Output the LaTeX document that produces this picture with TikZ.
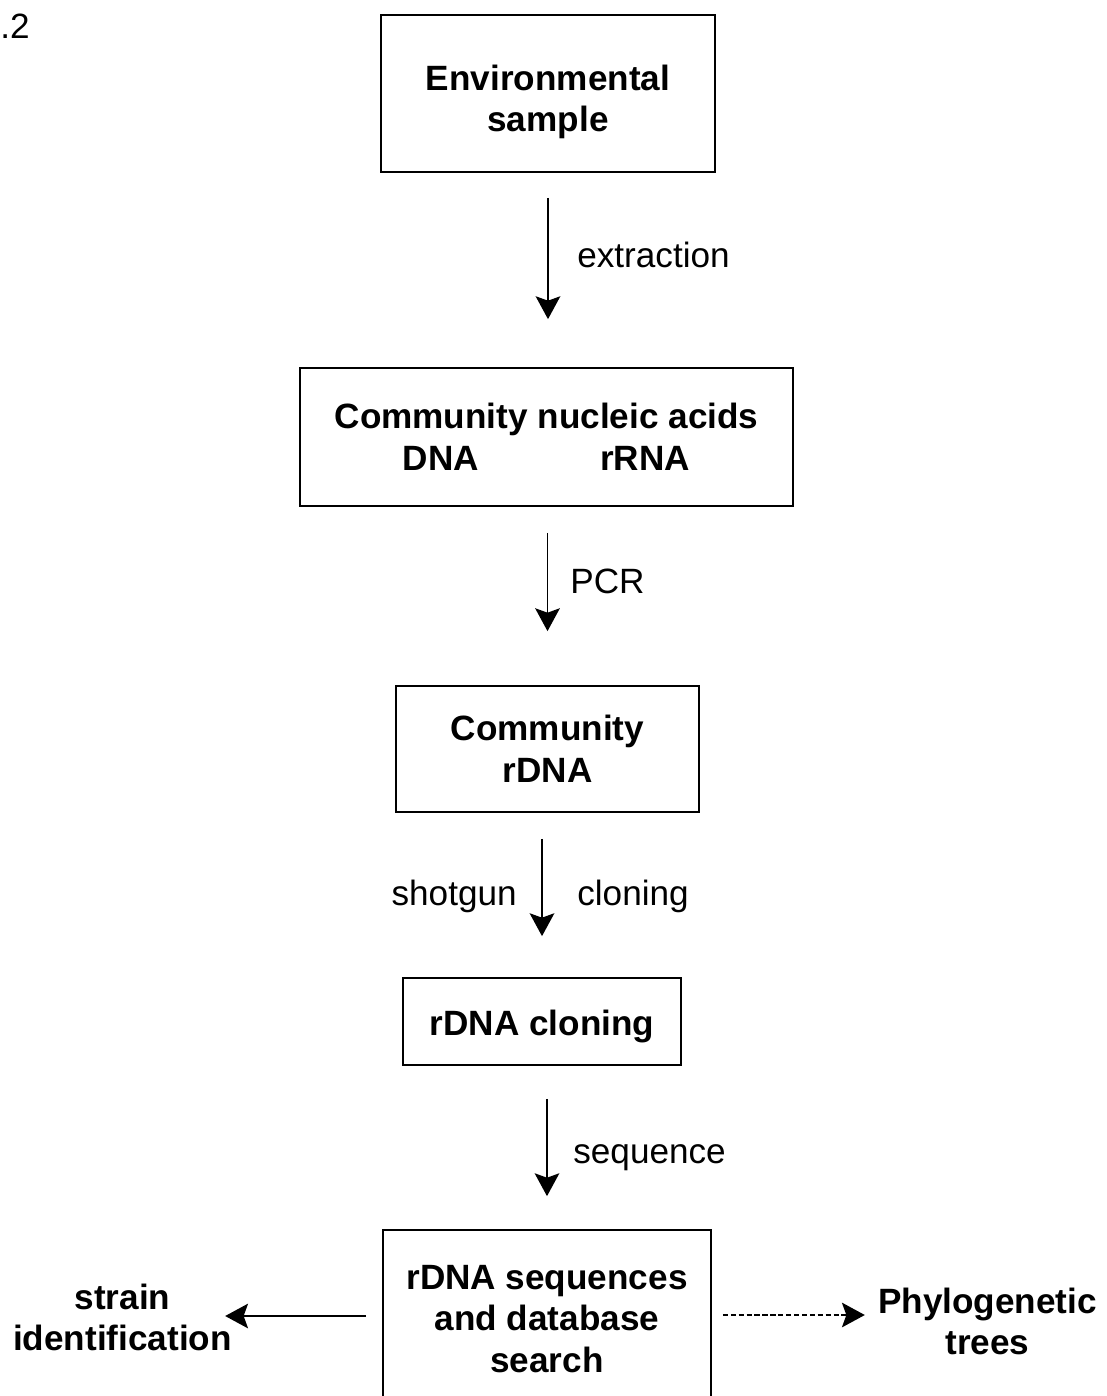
\documentclass[tikz,border=0pt]{standalone}
\usepackage{fontspec}
\setmainfont{Liberation Sans}
\usetikzlibrary{arrows.meta,positioning}

\tikzset{
  stagebox/.style={draw, line width=1pt, align=center, inner sep=0pt,
    font=\fontsize{20}{23.8}\selectfont\bfseries},
  steplabel/.style={inner sep=0pt, font=\fontsize{20}{23.8}\selectfont},
  outlabel/.style={align=center, inner sep=0pt,
    font=\fontsize{20}{23.8}\selectfont\bfseries},
  flow/.style={line width=1.1pt, -{Stealth[length=13pt,width=14pt,inset=2.5pt]}},
}

\begin{document}
\begin{tikzpicture}[x=0.02cm, y=-0.02cm]
    \useasboundingbox (0,0) rectangle (1106,1396);
    \clip (0,0) rectangle (1106,1396);

    % figure number (cut at the left edge)
    \node[steplabel, anchor=base west] (fignum) at (0,38) {.2};

    % Stages
    \node[stagebox, minimum width=6.68cm, minimum height=3.14cm] (env) at (548,93.5) {\rule{0pt}{24pt}Environmental\\sample};
    \node[stagebox, minimum width=9.86cm, minimum height=2.76cm] (nuc) at (546.5,437) {Community nucleic acids\\DNA\hspace{69pt}rRNA};
    \node[stagebox, minimum width=6.06cm, minimum height=2.52cm] (rdna) at (547.5,749) {Community\\rDNA};
    \node[stagebox, minimum width=5.56cm, minimum height=1.74cm] (clones) at (542,1021.5) {\rule{0pt}{20pt}rDNA cloning};
    \node[stagebox, minimum width=6.56cm, minimum height=3.56cm] (seqs) at (547,1319) {rDNA sequences\\and database\\search};

    % Outcomes
    \node[outlabel] (strain) at (122.5,1317.5) {strain\\identification};
    \node[outlabel] (phylo) at (987.5,1321.5) {Phylogenetic\\trees};

    % Steps
    \draw[flow, shorten <=0.5cm, shorten >=0.96cm] (env.south) -- (env.south |- nuc.north);
    \draw[flow, shorten <=0.52cm, shorten >=1.08cm] (nuc.south -| rdna.north) -- (rdna.north);
    \draw[flow, shorten <=0.52cm, shorten >=0.82cm] (rdna.south -| clones.north) -- (clones.north);
    \draw[flow, shorten <=0.66cm, shorten >=0.66cm] (clones.south -| seqs.north) -- (seqs.north);
    \draw[flow, shorten <=0.32cm, shorten >=-0.14cm] ([yshift=0.06cm]seqs.west) -- ([yshift=0.06cm]seqs.west -| strain.east);
    \draw[flow, dash pattern=on 3pt off 1.5pt, shorten <=0.22cm, shorten >=0.26cm] ([yshift=0.08cm]seqs.east) -- ([yshift=0.08cm]seqs.east -| phylo.west);

    % Step labels
    \node[steplabel, anchor=base west] (extr) at (577,267) {extraction};
    \node[steplabel, anchor=base west] (pcr) at (570,593) {PCR};
    \node[steplabel, anchor=base east] (shot) at (517,905) {shotgun};
    \node[steplabel, anchor=base west] (clon) at (577,905) {cloning};
    \node[steplabel, anchor=base west] (seqn) at (573,1163) {sequence};
\end{tikzpicture}
\end{document}
